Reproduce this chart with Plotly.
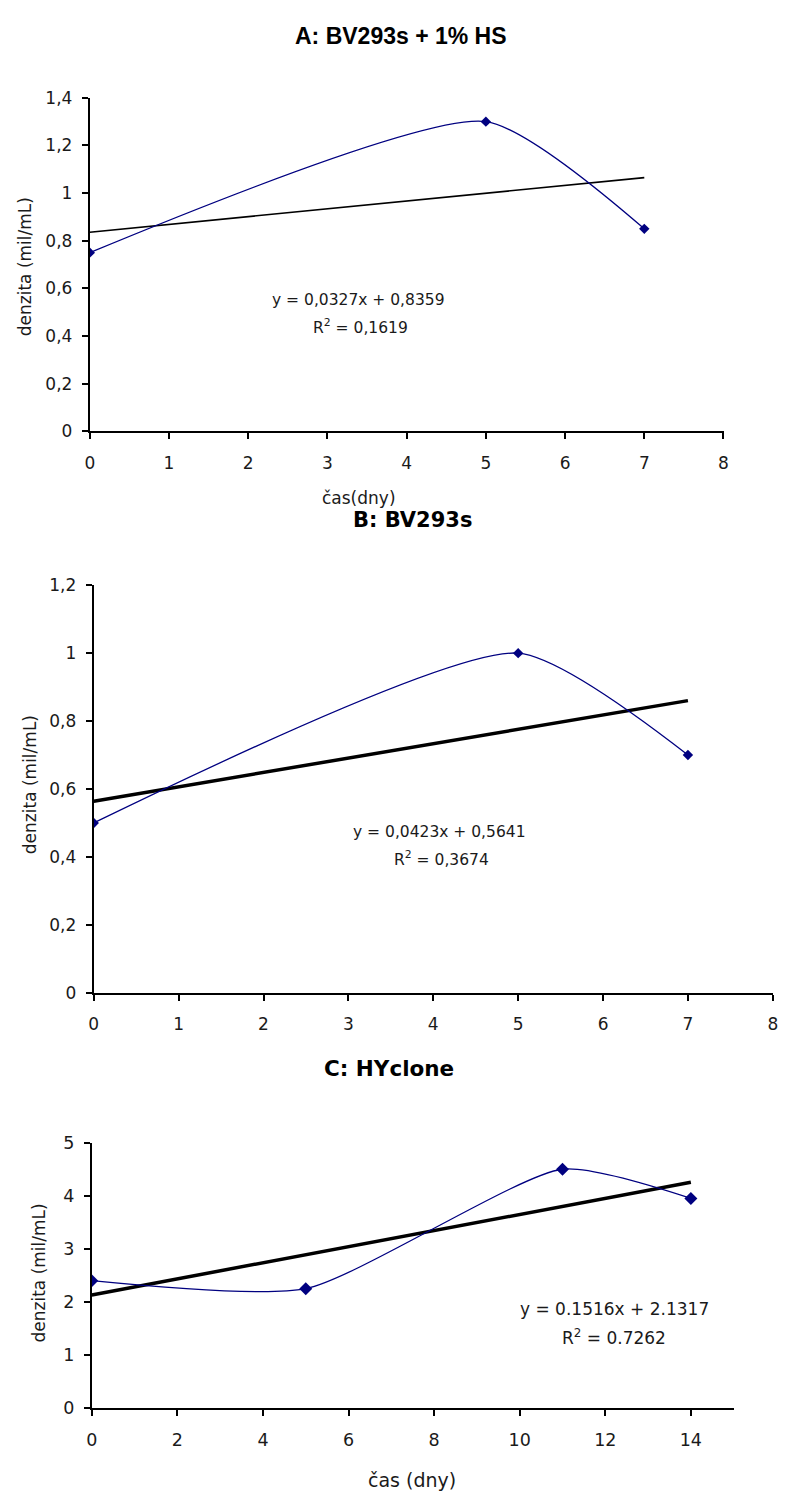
import plotly.graph_objects as go

W, H = 785, 1501

# ---------------- data ----------------
a_days = [0, 5, 7]
a_density = [0.75, 1.3, 0.85]
a_slope, a_intercept = 0.0327, 0.8359
a_eq = ["y = 0,0327x + 0,8359", "R<sup>2</sup> = 0,1619"]
a_title = "A: BV293s + 1% HS"
a_xticks = [0, 1, 2, 3, 4, 5, 6, 7, 8]
a_yticks = [0, 0.2, 0.4, 0.6, 0.8, 1.0, 1.2, 1.4]
a_yticktext = ["0", "0,2", "0,4", "0,6", "0,8", "1", "1,2", "1,4"]

b_days = [0, 5, 7]
b_density = [0.5, 1.0, 0.7]
b_slope, b_intercept = 0.0423, 0.5641
b_eq = ["y = 0,0423x + 0,5641", "R<sup>2</sup> = 0,3674"]
b_title = "B: BV293s"
b_xticks = [0, 1, 2, 3, 4, 5, 6, 7, 8]
b_yticks = [0, 0.2, 0.4, 0.6, 0.8, 1.0, 1.2]
b_yticktext = ["0", "0,2", "0,4", "0,6", "0,8", "1", "1,2"]

c_days = [0, 5, 11, 14]
c_density = [2.4, 2.25, 4.5, 3.95]
c_slope, c_intercept = 0.1516, 2.1317
c_eq = ["y = 0.1516x + 2.1317", "R<sup>2</sup> = 0.7262"]
c_title = "C: HYclone"
c_xticks = [0, 2, 4, 6, 8, 10, 12, 14]
c_yticks = [0, 1, 2, 3, 4, 5]
c_yticktext = ["0", "1", "2", "3", "4", "5"]

y_title = "denzita (mil/mL)"
x_title_a = "čas(dny)"
x_title_c = "čas (dny)"

NAVY = "#000080"
TXT = "#1a1a1a"


def px_x(px):
    return min(1.0, max(0.0, px / W))


def px_y(py):
    return min(1.0, max(0.0, 1 - py / H))


fig = go.Figure()

panels = [
    dict(days=a_days, dens=a_density, slope=a_slope, icpt=a_intercept,
         xa="x", ya="y", trend_w=1.6, msize=8, fs=17,
         xdom=[px_x(85), px_x(727.7)], ydom=[px_y(427), px_y(89)],
         xr=[0, 8], yr=[0, 1.4], xt=a_xticks, yt=a_yticks, ytt=a_yticktext),
    dict(days=b_days, dens=b_density, slope=b_slope, icpt=b_intercept,
         xa="x2", ya="y2", trend_w=3.5, msize=8, fs=17,
         xdom=[px_x(89), px_x(777.7)], ydom=[px_y(996), px_y(583)],
         xr=[0, 8], yr=[0, 1.2], xt=b_xticks, yt=b_yticks, ytt=b_yticktext),
    dict(days=c_days, dens=c_density, slope=c_slope, icpt=c_intercept,
         xa="x3", ya="y3", trend_w=3.5, msize=10, fs=17.5,
         xdom=[px_x(87), px_x(738)], ydom=[px_y(1417), px_y(1148)],
         xr=[0, 15], yr=[0, 5], xt=c_xticks, yt=c_yticks, ytt=c_yticktext),
]

layout_axes = {}
for i, p in enumerate(panels):
    x0, x1 = p["days"][0], p["days"][-1]
    fig.add_trace(go.Scatter(
        x=[x0, x1], y=[p["slope"] * x0 + p["icpt"], p["slope"] * x1 + p["icpt"]],
        mode="lines", line=dict(color="black", width=p["trend_w"]),
        xaxis=p["xa"], yaxis=p["ya"], showlegend=False, hoverinfo="skip"))
    fig.add_trace(go.Scatter(
        x=p["days"], y=p["dens"], mode="lines+markers",
        line=dict(color=NAVY, width=1.3, shape="spline", smoothing=0.6),
        marker=dict(symbol="diamond", size=p["msize"], color=NAVY),
        xaxis=p["xa"], yaxis=p["ya"], showlegend=False))
    suffix = "" if i == 0 else str(i + 1)
    common = dict(showline=True, linecolor="black", linewidth=2, ticks="outside",
                  ticklen=6, tickwidth=1.5, tickcolor="black", showgrid=False,
                  zeroline=False, fixedrange=True,
                  tickfont=dict(family="DejaVu Sans", size=p["fs"], color=TXT))
    layout_axes["xaxis" + suffix] = dict(
        domain=p["xdom"], range=p["xr"], tickmode="array", tickvals=p["xt"],
        anchor="y" + suffix, ticklabelstandoff=9, **common)
    layout_axes["yaxis" + suffix] = dict(
        domain=p["ydom"], range=p["yr"], tickmode="array", tickvals=p["yt"],
        ticktext=p["ytt"], anchor="x" + suffix, ticklabelstandoff=6, **common)

fig.update_layout(**layout_axes)

ann = []


def add_text(text, cx, cy, size, family="DejaVu Sans", angle=0, color=TXT):
    ann.append(dict(text=text, x=px_x(cx), y=px_y(cy), xref="paper", yref="paper",
                    xanchor="center", yanchor="middle", showarrow=False,
                    textangle=angle, font=dict(family=family, size=size, color=color)))


# panel titles
add_text("<b>" + a_title + "</b>", 401, 26, 23, family="Liberation Sans", color="black")
add_text("<b>" + b_title + "</b>", 412, 517, 21, family="DejaVu Sans", color="black")
add_text("<b>" + c_title + "</b>", 388, 1073, 21.5, family="DejaVu Sans", color="black")

# y titles
add_text(y_title, 19, 260, 17, angle=-90)
add_text(y_title, 24, 785, 17, angle=-90)
add_text(y_title, 33, 1280, 17, angle=-90)

# x titles
add_text(x_title_a, 358, 495, 17)
add_text(x_title_c, 412, 1490, 19)

# equations
add_text(a_eq[0], 358, 294, 15.5)
add_text(a_eq[1], 360, 321, 15.5)
add_text(b_eq[0], 440, 833, 15.5)
add_text(b_eq[1], 442, 860, 15.5)
add_text(c_eq[0], 617, 1317, 17)
add_text(c_eq[1], 617, 1345, 17)

fig.update_layout(
    width=W, height=H, margin=dict(l=0, r=0, t=0, b=0),
    paper_bgcolor="white", plot_bgcolor="white", annotations=ann,
    showlegend=False)

# remove the default page margin so the 785x1501 figure fills the window exactly
fig.write_html(
    "out.html",
    config={"displayModeBar": False},
    post_script="document.body.style.margin='0';document.body.style.overflow='hidden';")
